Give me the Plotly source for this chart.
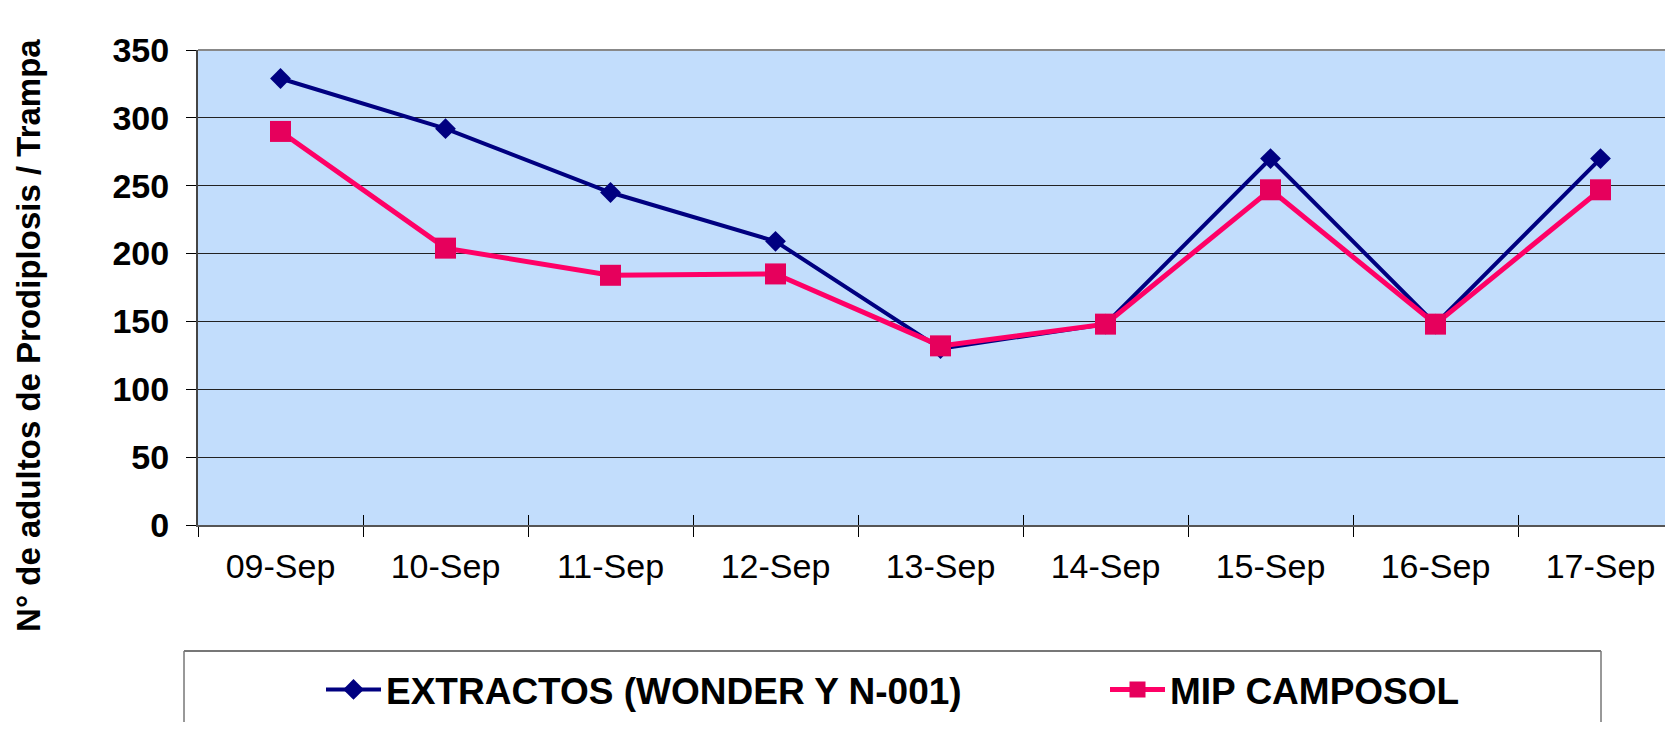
import plotly.graph_objects as go

dates = ["09-Sep", "10-Sep", "11-Sep", "12-Sep", "13-Sep", "14-Sep", "15-Sep", "16-Sep", "17-Sep"]
extractos = [329, 292, 245, 209, 130, 148, 270, 148, 270]
mip = [290, 204, 184, 185, 132, 148, 247, 148, 247]
y_ticks = [0, 50, 100, 150, 200, 250, 300, 350]
y_title = "N° de adultos de Prodiplosis / Trampa"

FONT = "Arial, 'Liberation Sans', sans-serif"

W, H = 1700, 714
L, T, B = 190, 42, 197
PW = W - L  # plot width in px; each category is ~165 px wide

fig = go.Figure()
fig.add_trace(go.Scatter(
    x=dates, y=extractos, name="EXTRACTOS (WONDER Y N-001)",
    mode="lines+markers", legend="legend",
    line=dict(color="#000080", width=4),
    marker=dict(symbol="diamond", size=16, color="#000080"),
))
fig.add_trace(go.Scatter(
    x=dates, y=mip, name="MIP CAMPOSOL",
    mode="lines+markers", legend="legend2",
    line=dict(color="#FF0066", width=5),
    marker=dict(symbol="square", size=21, color="#E6005C"),
))
# helper (draws nothing) so the overlay axis renders its inner ticks
fig.add_trace(go.Scatter(x=dates, y=mip, mode="none", xaxis="x2",
                         showlegend=False, hoverinfo="skip"))

def px_x(p):  # pixel offset from plot left -> paper fraction
    return p / PW

legend_font = dict(family=FONT, size=37, color="black", weight="bold")
fig.update_layout(
    width=W, height=H,
    margin=dict(l=L, r=0, t=T, b=B),
    paper_bgcolor="white",
    plot_bgcolor="#C2DDFC",
    showlegend=True,
    legend=dict(
        orientation="h", x=px_x(123), xanchor="left", y=-0.347, yanchor="middle",
        font=legend_font, bgcolor="rgba(0,0,0,0)", itemwidth=55,
    ),
    legend2=dict(
        orientation="h", x=px_x(907), xanchor="left", y=-0.347, yanchor="middle",
        font=legend_font, bgcolor="rgba(0,0,0,0)", itemwidth=55,
    ),
    xaxis=dict(
        type="category", categoryorder="array", categoryarray=dates,
        range=[-0.5, -0.5 + PW / 165.0], tickson="boundaries",
        ticks="outside", ticklen=10, tickcolor="black", tickwidth=1,
        showgrid=False, showline=True, linecolor="#555", linewidth=2,
        tickfont=dict(family=FONT, size=34, color="black"),
        ticklabelstandoff=10, automargin=False,
        fixedrange=True,
    ),
    xaxis2=dict(
        type="category", categoryorder="array", categoryarray=dates,
        overlaying="x", matches="x", anchor="y", side="bottom", tickson="boundaries",
        ticks="inside", ticklen=10, tickcolor="black", tickwidth=1,
        showticklabels=False, showgrid=False, showline=False, automargin=False,
    ),
    yaxis=dict(
        range=[0, 350], tickvals=y_ticks,
        ticks="outside", ticklen=10, tickcolor="black", tickwidth=1,
        showgrid=True, gridcolor="#222", gridwidth=1,
        showline=True, linecolor="#444", linewidth=2,
        zeroline=False,
        tickfont=dict(family=FONT, size=34, color="black", weight="bold"),
        ticklabelstandoff=10,
        automargin=False,
        fixedrange=True,
    ),
)

fig.add_annotation(
    text=y_title, textangle=-90, xref="paper", yref="paper",
    x=px_x(-169), y=0.398, xanchor="center", yanchor="middle", showarrow=False,
    font=dict(family=FONT, size=33, color="black", weight="bold"),
)

# top border of plot area
fig.add_shape(type="line", xref="paper", yref="paper", x0=0, x1=1, y0=1, y1=1,
              line=dict(color="#888", width=2))
# legend frame
fig.add_shape(type="rect", xref="paper", yref="paper",
              x0=px_x(-14), x1=px_x(1403), y0=-0.2653, y1=-0.46,
              line=dict(color="#333", width=1), fillcolor="rgba(0,0,0,0)", layer="below")
fig.add_shape(type="line", xref="paper", yref="paper", x0=px_x(-14), x1=px_x(1403),
              y0=-0.2653, y1=-0.2653, line=dict(color="#777", width=2))

fig.write_html("out.html")
